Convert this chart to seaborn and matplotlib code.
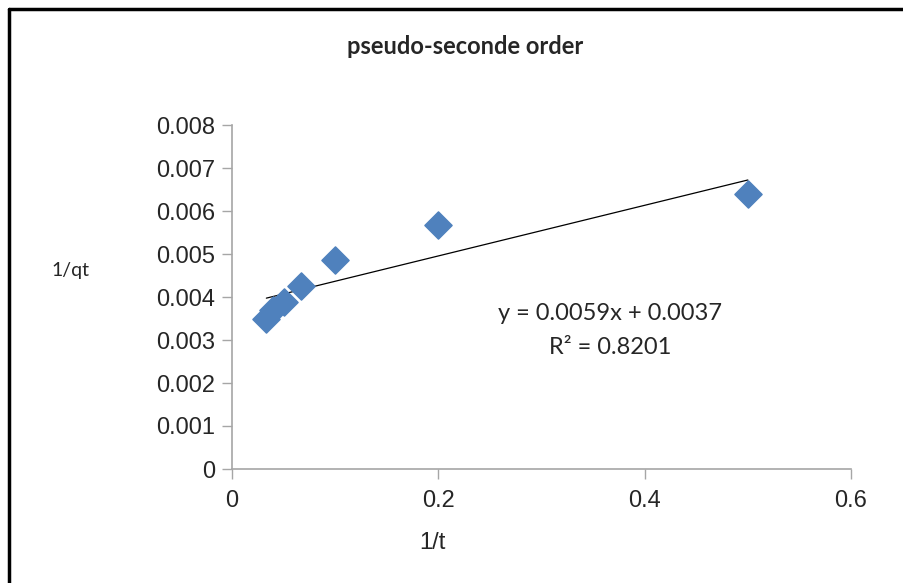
import numpy as np
import matplotlib
matplotlib.use("Agg")
from matplotlib import pyplot as plt
from matplotlib.lines import Line2D
import seaborn as sns

# données : 1/t et 1/qt
inv_t = [0.5, 0.2, 0.1, 0.0667, 0.05, 0.04, 0.0333]
inv_qt = [0.0064, 0.00567, 0.00486, 0.00426, 0.00388, 0.0037, 0.0035]
x_ticks = [0, 0.2, 0.4, 0.6]
y_ticks = [0, 0.001, 0.002, 0.003, 0.004, 0.005, 0.006, 0.007, 0.008]
y_labels = ["0", "0.001", "0.002", "0.003", "0.004", "0.005", "0.006", "0.007", "0.008"]
x_labels = ["0", "0.2", "0.4", "0.6"]

sns.set_style("white")
plt.rcParams['font.family'] = ['Liberation Sans', 'DejaVu Sans']

fig = plt.figure(figsize=(9.04, 5.83), dpi=100)
ax = fig.add_axes([232 / 904, 1 - 469 / 583, (851 - 232) / 904, (469 - 125) / 583])

# droite de tendance
sns.regplot(x=inv_t, y=inv_qt, ax=ax, ci=None, scatter=False,
            line_kws={'color': 'black', 'lw': 0.9})
sns.scatterplot(x=inv_t, y=inv_qt, ax=ax, marker='D', s=190,
                color='#4F81BD', edgecolor='#4F81BD', zorder=3)

ax.set_xlim(0, 0.6)
ax.set_ylim(0, 0.008)
ax.set_xticks(x_ticks)
ax.set_xticklabels(x_labels, fontsize=17)
ax.set_yticks(y_ticks)
ax.set_yticklabels(y_labels, fontsize=17)
ax.tick_params(axis='x', direction='out', length=7, width=1, color='#a6a6a6',
               bottom=True, pad=8)
ax.tick_params(axis='y', direction='out', length=7, width=1, color='#a6a6a6',
               left=True, pad=5)
for side in ['top', 'right']:
    ax.spines[side].set_visible(False)
for side in ['left', 'bottom']:
    ax.spines[side].set_color('#a6a6a6')
    ax.spines[side].set_linewidth(1.2)

ax.set_xlabel('')
ax.set_ylabel('')
fig.text(432 / 904, 1 - 543 / 583, '1/t', fontsize=17, ha='center', va='center')
fig.text(70 / 904, 1 - 270 / 583, '1/qt', fontsize=14, ha='center', va='center',
         family=['Lato', 'DejaVu Sans'])
fig.text(465 / 904, 1 - 47 / 583, 'pseudo-seconde order', fontsize=17,
         fontweight='bold', ha='center', va='center', family=['Lato', 'DejaVu Sans'])
fig.text(610 / 904, 1 - 313 / 583, 'y = 0.0059x + 0.0037', fontsize=17,
         ha='center', va='center', family=['Lato', 'DejaVu Sans'])
fig.text(610 / 904, 1 - 347 / 583, 'R² = 0.8201', fontsize=17,
         ha='center', va='center', family=['Lato', 'DejaVu Sans'])

# cadre de la figure
fig.add_artist(Line2D([9 / 904, 9 / 904], [0, 1 - 9 / 583], color='black', lw=2.5))
fig.add_artist(Line2D([9 / 904, 1], [1 - 9 / 583, 1 - 9 / 583], color='black', lw=2.5))

fig.savefig('out.png', dpi=100)
